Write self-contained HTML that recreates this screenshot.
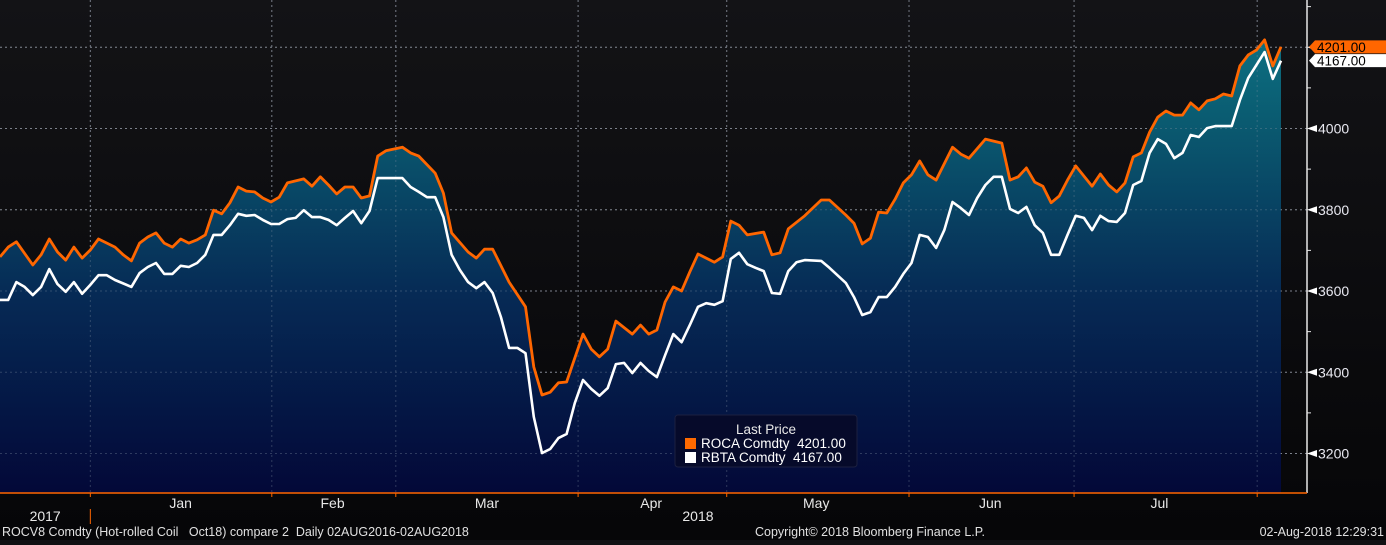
<!DOCTYPE html>
<html><head><meta charset="utf-8"><style>
html,body{margin:0;padding:0;background:#111114;}
body{width:1386px;height:540px;overflow:hidden;font-family:"Liberation Sans",sans-serif;}
svg text{font-family:"Liberation Sans",sans-serif;white-space:pre;}
</style></head><body>
<svg id="chart" width="1386" height="540" xmlns="http://www.w3.org/2000/svg">
<defs>
<linearGradient id="fillg" x1="0" y1="0" x2="0" y2="493" gradientUnits="userSpaceOnUse">
<stop offset="0" stop-color="#0e7a8a"/>
<stop offset="0.25" stop-color="#0a5a70"/>
<stop offset="0.6" stop-color="#062a55"/>
<stop offset="1" stop-color="#030838"/>
</linearGradient>
<linearGradient id="bgg" x1="0" y1="0" x2="0" y2="1">
<stop offset="0" stop-color="#131316"/>
<stop offset="1" stop-color="#060608"/>
</linearGradient>
</defs>
<rect x="0" y="0" width="1386" height="540" fill="url(#bgg)"/>
<g id="grid"></g>
<g id="areas"></g>
<g id="lines"></g>
<g id="yaxis"></g>
<g id="xaxis"></g>
<g>
<rect x="675" y="415" width="182" height="52" rx="3" fill="#060a2a" stroke="#1c2040"/>
<text x="766" y="434" fill="#e8e8e8" font-size="13.5" text-anchor="middle">Last Price</text>
<rect x="685" y="438" width="11" height="11" fill="#ff6a00"/>
<text x="701" y="448" fill="#ffffff" font-size="13.5">ROCA Comdty  4201.00</text>
<rect x="685" y="452" width="11" height="11" fill="#ffffff"/>
<text x="701" y="462" fill="#ffffff" font-size="13.5">RBTA Comdty  4167.00</text>
</g>
<g font-size="12.5" fill="#e0e0e0">
<text x="2" y="536" fill="#e0e0e0">ROCV8 Comdty (Hot-rolled Coil   Oct18) compare 2  Daily 02AUG2016-02AUG2018</text>
<text x="755" y="536" fill="#e0e0e0">Copyright© 2018 Bloomberg Finance L.P.</text>
<text x="1384" y="536" fill="#e0e0e0" text-anchor="end">02-Aug-2018 12:29:31</text>
</g>
</svg>
<script>
const rocaDays=[0,1,2,4,5,6,7,8,9,10,11,12,14,15,16,17,18,19,20,21,22,23,24,25,26,27,28,29,30,31,32,33,34,35,37,38,39,40,41,42,43,44,45,46,47,49,50,51,53,54,55,57,58,59,60,62,64,65,66,67,68,69,71,72,73,74,75,77,78,79,80,81,82,83,84,85,87,88,89,90,91,93,94,95,96,98,100,101,103,104,105,106,107,108,109,110,111,112,113,114,116,117,118,120,122,123,124,125,126,127,128,129,130,131,133,134,135,136,137,138,139,140,141,142,143,144,145,146,147,148,149,150,151,152,153,154,155,156];
const rocaVals=[3684,3708,3721,3664,3689,3728,3696,3676,3708,3681,3701,3728,3708,3689,3674,3718,3733,3743,3718,3708,3728,3718,3726,3738,3799,3790,3817,3856,3846,3844,3829,3819,3831,3866,3876,3858,3881,3861,3839,3856,3856,3829,3834,3932,3945,3954,3940,3932,3890,3841,3743,3696,3681,3703,3703,3622,3561,3413,3344,3351,3374,3376,3494,3457,3438,3457,3526,3494,3516,3494,3504,3573,3610,3600,3647,3691,3671,3684,3772,3762,3738,3745,3689,3694,3753,3785,3824,3824,3787,3767,3716,3730,3794,3792,3826,3866,3886,3920,3886,3873,3954,3937,3927,3974,3964,3873,3881,3903,3868,3858,3817,3834,3873,3908,3858,3888,3861,3844,3866,3930,3940,3991,4028,4043,4033,4033,4063,4046,4068,4073,4085,4080,4154,4181,4193,4218,4154,4201];
const rbtaDays=[0,1,2,3,4,5,6,7,8,9,10,11,12,13,14,16,17,18,19,20,21,22,23,24,25,26,27,28,29,30,31,32,33,34,35,36,37,38,39,40,41,42,43,44,45,46,49,50,51,52,53,54,55,56,57,58,59,60,61,62,63,64,65,66,67,68,69,70,71,72,73,74,75,76,77,78,79,80,81,82,83,84,85,86,87,88,89,90,91,92,93,94,95,96,97,98,100,101,103,104,105,106,107,108,109,110,111,112,113,114,115,116,117,118,119,120,121,122,123,124,125,126,127,128,129,130,131,132,133,134,135,136,137,138,139,140,141,142,143,144,145,146,147,148,149,150,151,152,154,155,156];
const rbtaVals=[3578,3578,3622,3610,3590,3610,3654,3617,3598,3622,3593,3615,3639,3639,3627,3610,3644,3659,3669,3642,3642,3662,3659,3669,3689,3738,3738,3762,3790,3785,3787,3775,3765,3765,3777,3780,3799,3782,3782,3775,3762,3780,3797,3767,3797,3878,3878,3856,3844,3831,3831,3782,3689,3652,3622,3607,3622,3595,3536,3460,3460,3447,3290,3201,3211,3238,3248,3324,3381,3359,3342,3361,3420,3423,3398,3423,3403,3388,3442,3494,3474,3516,3561,3570,3566,3575,3679,3694,3666,3657,3649,3595,3593,3649,3671,3676,3674,3657,3620,3585,3541,3548,3585,3585,3610,3642,3669,3738,3733,3706,3750,3819,3804,3787,3829,3861,3881,3881,3802,3792,3807,3762,3743,3689,3689,3738,3785,3780,3750,3785,3772,3770,3792,3861,3871,3940,3974,3962,3927,3940,3984,3979,4001,4006,4006,4006,4070,4124,4188,4122,4167];
const yTickVals=[3200,3400,3600,3800,4000,4200];
const yTickLabels=["3200","3400","3600","3800","4000",""];
const yMinorVals=[3300,3500,3700,3900,4100,4300];
const monthLabels=["Jan","Feb","Mar","Apr","May","Jun","Jul"];
const monthDays=[22,40.5,59.3,79.3,99.4,120.6,141.2];
const gridDays=[11,33.1,48.2,70.4,88.5,110.7,130.8,153.1];
const yearLabels=["2017","2018"];
const yearDays=[5.5,85];
const lastVals=[4201.00,4167.00];

const NS="http://www.w3.org/2000/svg";
const PL=0,PR=1307,PB=493;
const lastDay=156,lastX=1281;
function xs(d){return PL+d*(lastX-PL)/lastDay;}
function ys(v){return 128.5-(v-4000)*0.40625;}
function mk(tag,attrs,parent){const e=document.createElementNS(NS,tag);for(const k in attrs)e.setAttribute(k,attrs[k]);parent.appendChild(e);return e;}

const grid=document.getElementById('grid');
yTickVals.forEach(v=>{
  const l=mk('line',{x1:PL,x2:PR,y1:ys(v),y2:ys(v),stroke:'#7a7a80','stroke-width':1,'stroke-dasharray':'2,3'},grid);
  
  
});
gridDays.forEach(d=>{
  const l=mk('line',{x1:xs(d),x2:xs(d),y1:0,y2:PB,stroke:'#6a6a72','stroke-width':1,'stroke-dasharray':'2,3'},grid);
  
  
});

const areas=document.getElementById('areas');
let ad='M'+xs(rocaDays[0])+','+PB;
rocaDays.forEach((d,i)=>{ad+=' L'+xs(d).toFixed(1)+','+ys(rocaVals[i]).toFixed(1);});
ad+=' L'+xs(rocaDays[rocaDays.length-1])+','+PB+' Z';
const area=mk('path',{d:ad,fill:'url(#fillg)'},areas);


gridDays.forEach(d=>{
  const l=mk('line',{x1:xs(d),x2:xs(d),y1:0,y2:PB,stroke:'#8090a0','stroke-opacity':0.35,'stroke-width':1,'stroke-dasharray':'2,3'},areas);
  
  
});
yTickVals.forEach(v=>{
  const l=mk('line',{x1:PL,x2:PR,y1:ys(v),y2:ys(v),stroke:'#8090a0','stroke-opacity':0.35,'stroke-width':1,'stroke-dasharray':'2,3'},areas);
  
  
});

const lines=document.getElementById('lines');
function linePath(days,vals){return days.map((d,i)=>(i?'L':'M')+xs(d).toFixed(1)+','+ys(vals[i]).toFixed(1)).join(' ');}
const wl=mk('path',{d:linePath(rbtaDays,rbtaVals),fill:'none',stroke:'#ffffff','stroke-width':2.6,'stroke-linejoin':'round'},lines);


const ol=mk('path',{d:linePath(rocaDays,rocaVals),fill:'none',stroke:'#ff6600','stroke-width':2.8,'stroke-linejoin':'round'},lines);



const ya=document.getElementById('yaxis');
const al=mk('line',{x1:PR,x2:PR,y1:0,y2:PB,stroke:'#e8e8e8','stroke-width':1.5},ya);


yTickVals.forEach((v,i)=>{
  const y=ys(v);
  const t=mk('path',{d:`M${PR},${y} L${PR+10},${y-3.5} L${PR+10},${y+3.5} Z`,fill:'#ffffff'},ya);
  
  
  if(yTickLabels[i]){
    const tx=mk('text',{x:PR+11,y:y+5,fill:'#e8e8f0','font-size':14},ya);
    tx.textContent=yTickLabels[i];
    
    
  }
});
yMinorVals.forEach(v=>{
  const t=mk('line',{x1:PR,x2:PR+4,y1:ys(v),y2:ys(v),stroke:'#e8e8e8','stroke-width':1},ya);
  
  
});
const tagCols=[['#ff6600','#000000'],['#ffffff','#000000']];
const tagNames=['roca-last-price-tag','rbta-last-price-tag'];
lastVals.forEach((v,i)=>{
  const y=i===0?ys(v):Math.max(ys(v),ys(lastVals[0])+13);
  const g=mk('g',{},ya);
  
  
  mk('path',{d:`M${PR+2},${y} L${PR+8},${y-6.5} L1386,${y-6.5} L1386,${y+6.5} L${PR+8},${y+6.5} Z`,fill:tagCols[i][0]},g);
  const tx=mk('text',{x:PR+10,y:y+5,fill:tagCols[i][1],'font-size':13.5},g);
  tx.textContent=v.toFixed(2);
});

const xa=document.getElementById('xaxis');
const bl=mk('line',{x1:0,x2:PR,y1:PB,y2:PB,stroke:'#ff6600','stroke-width':1.5},xa);


gridDays.forEach(d=>{
  const t=mk('line',{x1:xs(d),x2:xs(d),y1:PB,y2:PB+4,stroke:'#ff6600','stroke-width':1},xa);
  
  
});
monthLabels.forEach((m,i)=>{
  const t=mk('text',{x:xs(monthDays[i]),y:508,fill:'#e8e8e8','font-size':14,'text-anchor':'middle'},xa);
  t.textContent=m;
  
  
});
yearLabels.forEach((m,i)=>{
  const t=mk('text',{x:xs(yearDays[i]),y:521,fill:'#e8e8e8','font-size':14,'text-anchor':'middle'},xa);
  t.textContent=m;
  
  
});
const yd=mk('line',{x1:xs(gridDays[0]),x2:xs(gridDays[0]),y1:509,y2:524,stroke:'#ff6600','stroke-width':1},xa);


</script>
</body></html>
